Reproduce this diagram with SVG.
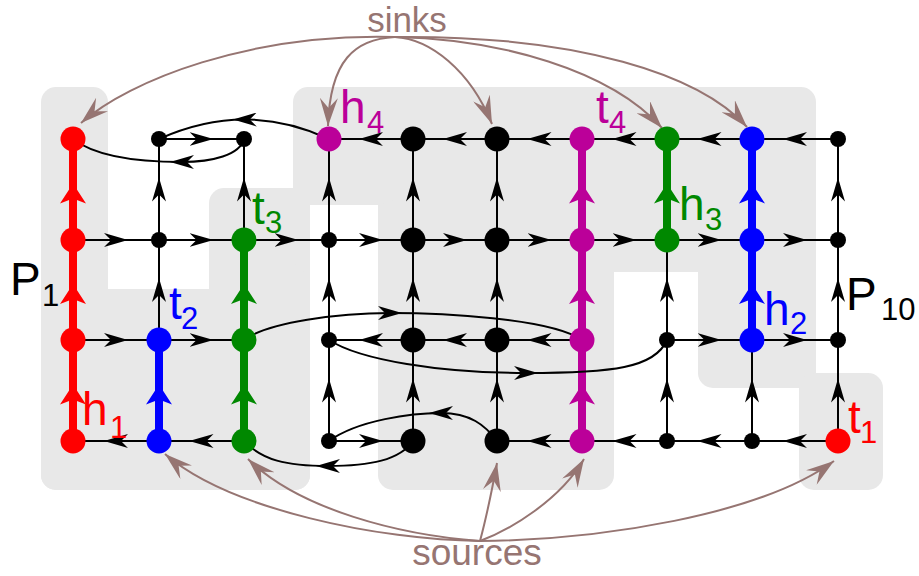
<svg xmlns="http://www.w3.org/2000/svg" width="919" height="576" viewBox="0 0 919 576">
<defs>
<style>
.bg{fill:#e8e8e8}
.wh{fill:#fff}
.e{fill:none;stroke:#000;stroke-width:2;marker-mid:url(#a)}
.tr{fill:none;stroke:#ff0000;stroke-width:8;marker-mid:url(#ar)}
.tb{fill:none;stroke:#0000ff;stroke-width:8;marker-mid:url(#ab)}
.tg{fill:none;stroke:#008800;stroke-width:8;marker-mid:url(#ag)}
.tm{fill:none;stroke:#bb0099;stroke-width:8;marker-mid:url(#am)}
.br{fill:none;stroke:#967572;stroke-width:2;marker-end:url(#abr)}
.k{fill:#000}.r{fill:#ff0000}.b{fill:#0000ff}.g{fill:#008800}.m{fill:#bb0099}
.t{font-family:"Liberation Sans",Arial,sans-serif;font-size:46px}
.s{font-family:"Liberation Sans",Arial,sans-serif;font-size:31px}
.bt{font-family:"Liberation Sans",Arial,sans-serif;font-size:36px;fill:#967572;text-anchor:middle}
</style>
<marker id="a" viewBox="0 0 24 14" refX="12" refY="7" markerWidth="24" markerHeight="14" markerUnits="userSpaceOnUse" orient="auto"><path d="M0,0 L24,7 L0,14 L7,7 Z" fill="#000"/></marker>
<marker id="ar" viewBox="0 0 20 26" refX="14" refY="13" markerWidth="20" markerHeight="26" markerUnits="userSpaceOnUse" orient="auto"><path d="M0,0 L20,13 L0,26 L5,13 Z" fill="#ff0000"/></marker>
<marker id="ab" viewBox="0 0 20 26" refX="14" refY="13" markerWidth="20" markerHeight="26" markerUnits="userSpaceOnUse" orient="auto"><path d="M0,0 L20,13 L0,26 L5,13 Z" fill="#0000ff"/></marker>
<marker id="ag" viewBox="0 0 20 26" refX="14" refY="13" markerWidth="20" markerHeight="26" markerUnits="userSpaceOnUse" orient="auto"><path d="M0,0 L20,13 L0,26 L5,13 Z" fill="#008800"/></marker>
<marker id="am" viewBox="0 0 20 26" refX="14" refY="13" markerWidth="20" markerHeight="26" markerUnits="userSpaceOnUse" orient="auto"><path d="M0,0 L20,13 L0,26 L5,13 Z" fill="#bb0099"/></marker>
<marker id="abr" viewBox="0 0 28 18" refX="28" refY="9" markerWidth="28" markerHeight="18" markerUnits="userSpaceOnUse" orient="auto"><path d="M0,0 L28,9 L0,18 L10,9 Z" fill="#967572"/></marker>
</defs>

<g id="background">
<rect class="bg" x="41" y="87" width="67" height="403" rx="15"/>
<rect class="bg" x="41" y="289" width="269" height="201" rx="15"/>
<rect class="bg" x="209" y="188" width="101" height="302" rx="15"/>
<rect class="bg" x="293" y="87" width="523" height="185" rx="15"/>
<rect class="bg" x="378" y="200" width="236" height="290" rx="15"/>
<rect class="bg" x="698" y="200" width="118" height="188" rx="15"/>
<rect class="bg" x="799" y="373" width="84" height="117" rx="15"/>
<rect class="wh" x="310" y="205" width="68" height="67"/>
</g>

<g id="connectors">
<!-- row 1 -->
<polyline class="e" points="159,139 201.5,139 244,139"/>
<polyline class="e" points="413,139 371,139 329,139"/>
<polyline class="e" points="497,139 455,139 413,139"/>
<polyline class="e" points="582,139 539.5,139 497,139"/>
<polyline class="e" points="667,139 624.5,139 582,139"/>
<polyline class="e" points="752,139 709.5,139 667,139"/>
<polyline class="e" points="838,139 795,139 752,139"/>
<!-- row 2 -->
<polyline class="e" points="73,240 116,240 159,240"/>
<polyline class="e" points="159,240 201.5,240 244,240"/>
<polyline class="e" points="244,240 286.5,240 329,240"/>
<polyline class="e" points="329,240 371,240 413,240"/>
<polyline class="e" points="413,240 455,240 497,240"/>
<polyline class="e" points="497,240 539.5,240 582,240"/>
<polyline class="e" points="582,240 624.5,240 667,240"/>
<polyline class="e" points="667,240 709.5,240 752,240"/>
<polyline class="e" points="752,240 795,240 838,240"/>
<!-- row 3 -->
<polyline class="e" points="73,340 116,340 159,340"/>
<polyline class="e" points="159,340 201.5,340 244,340"/>
<polyline class="e" points="582,340 539.5,340 497,340"/>
<polyline class="e" points="497,340 455,340 413,340"/>
<polyline class="e" points="413,340 371,340 329,340"/>
<polyline class="e" points="667,340 709.5,340 752,340"/>
<polyline class="e" points="752,340 795,340 838,340"/>
<!-- row 4 -->
<polyline class="e" points="159,441 116,441 73,441"/>
<polyline class="e" points="244,441 201.5,441 159,441"/>
<polyline class="e" points="329,441 371,441 413,441"/>
<polyline class="e" points="582,441 539.5,441 497,441"/>
<polyline class="e" points="667,441 624.5,441 582,441"/>
<polyline class="e" points="752,441 709.5,441 667,441"/>
<polyline class="e" points="838,441 795,441 752,441"/>
<!-- thin verticals -->
<polyline class="e" points="159,340 159,290 159,240"/>
<polyline class="e" points="159,240 159,189.5 159,139"/>
<polyline class="e" points="244,240 244,189.5 244,139"/>
<polyline class="e" points="329,441 329,390.5 329,340"/>
<polyline class="e" points="329,340 329,290 329,240"/>
<polyline class="e" points="329,240 329,189.5 329,139"/>
<polyline class="e" points="413,441 413,390.5 413,340"/>
<polyline class="e" points="413,340 413,290 413,240"/>
<polyline class="e" points="413,240 413,189.5 413,139"/>
<polyline class="e" points="497,441 497,390.5 497,340"/>
<polyline class="e" points="497,340 497,290 497,240"/>
<polyline class="e" points="497,240 497,189.5 497,139"/>
<polyline class="e" points="667,441 667,390.5 667,340"/>
<polyline class="e" points="667,340 667,290 667,240"/>
<polyline class="e" points="752,441 752,390.5 752,340"/>
<polyline class="e" points="838,441 838,390.5 838,340"/>
<polyline class="e" points="838,340 838,290 838,240"/>
<polyline class="e" points="838,240 838,189.5 838,139"/>
<!-- thick coloured paths -->
<polyline class="tr" points="73,441 73,390.5 73,340"/>
<polyline class="tr" points="73,340 73,290 73,240"/>
<polyline class="tr" points="73,240 73,189.5 73,139"/>
<polyline class="tb" points="159,441 159,390.5 159,340"/>
<polyline class="tg" points="244,441 244,390.5 244,340"/>
<polyline class="tg" points="244,340 244,290 244,240"/>
<polyline class="tm" points="582,441 582,390.5 582,340"/>
<polyline class="tm" points="582,340 582,290 582,240"/>
<polyline class="tm" points="582,240 582,189.5 582,139"/>
<polyline class="tg" points="667,240 667,189.5 667,139"/>
<polyline class="tb" points="752,340 752,290 752,240"/>
<polyline class="tb" points="752,240 752,189.5 752,139"/>
<!-- curved connectors -->
<path class="e" d="M329,139 Q287,119.5 244.75,119.5 Q202.5,119.5 159,139"/>
<path class="e" d="M244,139 C240,155 212,162 182,162 S100,160 73,139"/>
<path class="e" d="M244,340 C268,322 340,313 390,313 S550,318 582,340"/>
<path class="e" d="M329,340 C360,360 440,373 526,373 S655,368 667,340"/>
<path class="e" d="M413,441 C400,460 370,466 328,466 S262,460 244,441"/>
<path class="e" d="M497,441 C485,425 470,413 441,413 S358,420 329,441"/>
</g>

<g id="annotations">
<text class="bt" x="407" y="32" style="font-size:35px">sinks</text>
<path class="br" d="M395,37 C250,33 130,80 81,123"/>
<path class="br" d="M395,37 C355,39 330,60 328,126"/>
<path class="br" d="M395,37 C430,39 470,70 492,124"/>
<path class="br" d="M395,37 C500,39 610,70 662,128"/>
<path class="br" d="M395,37 C580,35 700,75 747,127"/>
<text class="bt" x="477" y="565" style="font-size:37px">sources</text>
<path class="br" d="M480,541 C380,540 230,510 165,454"/>
<path class="br" d="M480,541 C400,535 300,510 248,459"/>
<path class="br" d="M480,541 C487,515 492,490 497,463"/>
<path class="br" d="M480,541 C510,530 560,500 584,459"/>
<path class="br" d="M480,541 C600,540 760,515 834,461"/>
</g>

<g id="path-labels">
<text class="t" x="10" y="295">P</text><text class="s" x="42" y="306">1</text>
<text class="t" x="846" y="310">P</text><text class="s" x="881" y="320">10</text>
</g>

<!-- row 1 nodes -->
<g id="n-1-1"><circle class="r" cx="73" cy="139" r="12.5"/></g>
<g id="n-1-2"><circle class="k" cx="159" cy="139" r="8"/></g>
<g id="n-1-3"><circle class="k" cx="244" cy="139" r="8"/></g>
<g id="n-1-4"><circle class="m" cx="329" cy="139" r="12.5"/><text class="t m" x="340" y="123">h</text><text class="s m" x="367" y="133">4</text></g>
<g id="n-1-5"><circle class="k" cx="413" cy="139" r="12.5"/></g>
<g id="n-1-6"><circle class="k" cx="497" cy="139" r="12.5"/></g>
<g id="n-1-7"><circle class="m" cx="582" cy="139" r="12.5"/><text class="t m" x="596" y="123">t</text><text class="s m" x="609" y="133">4</text></g>
<g id="n-1-8"><circle class="g" cx="667" cy="139" r="12.5"/></g>
<g id="n-1-9"><circle class="b" cx="752" cy="139" r="12.5"/></g>
<g id="n-1-10"><circle class="k" cx="838" cy="139" r="8"/></g>
<!-- row 2 nodes -->
<g id="n-2-1"><circle class="r" cx="73" cy="240" r="12.5"/></g>
<g id="n-2-2"><circle class="k" cx="159" cy="240" r="8"/></g>
<g id="n-2-3"><circle class="g" cx="244" cy="240" r="12.5"/><text class="t g" x="252" y="224">t</text><text class="s g" x="265" y="233">3</text></g>
<g id="n-2-4"><circle class="k" cx="329" cy="240" r="8"/></g>
<g id="n-2-5"><circle class="k" cx="413" cy="240" r="12.5"/></g>
<g id="n-2-6"><circle class="k" cx="497" cy="240" r="12.5"/></g>
<g id="n-2-7"><circle class="m" cx="582" cy="240" r="12.5"/></g>
<g id="n-2-8"><circle class="g" cx="667" cy="240" r="12.5"/><text class="t g" x="679" y="220">h</text><text class="s g" x="705" y="230">3</text></g>
<g id="n-2-9"><circle class="b" cx="752" cy="240" r="12.5"/></g>
<g id="n-2-10"><circle class="k" cx="838" cy="240" r="8"/></g>
<!-- row 3 nodes -->
<g id="n-3-1"><circle class="r" cx="73" cy="340" r="12.5"/></g>
<g id="n-3-2"><circle class="b" cx="159" cy="340" r="12.5"/><text class="t b" x="169" y="319">t</text><text class="s b" x="181" y="329">2</text></g>
<g id="n-3-3"><circle class="g" cx="244" cy="340" r="12.5"/></g>
<g id="n-3-4"><circle class="k" cx="329" cy="340" r="8"/></g>
<g id="n-3-5"><circle class="k" cx="413" cy="340" r="12.5"/></g>
<g id="n-3-6"><circle class="k" cx="497" cy="340" r="12.5"/></g>
<g id="n-3-7"><circle class="m" cx="582" cy="340" r="12.5"/></g>
<g id="n-3-8"><circle class="k" cx="667" cy="340" r="8"/></g>
<g id="n-3-9"><circle class="b" cx="752" cy="340" r="12.5"/><text class="t b" x="764" y="325">h</text><text class="s b" x="790" y="334">2</text></g>
<g id="n-3-10"><circle class="k" cx="838" cy="340" r="8"/></g>
<!-- row 4 nodes -->
<g id="n-4-1"><circle class="r" cx="73" cy="441" r="12.5"/><text class="t r" x="82" y="425">h</text><text class="s r" x="110" y="438">1</text></g>
<g id="n-4-2"><circle class="b" cx="159" cy="441" r="12.5"/></g>
<g id="n-4-3"><circle class="g" cx="244" cy="441" r="12.5"/></g>
<g id="n-4-4"><circle class="k" cx="329" cy="441" r="8"/></g>
<g id="n-4-5"><circle class="k" cx="413" cy="441" r="12.5"/></g>
<g id="n-4-6"><circle class="k" cx="497" cy="441" r="12.5"/></g>
<g id="n-4-7"><circle class="m" cx="582" cy="441" r="12.5"/></g>
<g id="n-4-8"><circle class="k" cx="667" cy="441" r="8"/></g>
<g id="n-4-9"><circle class="k" cx="752" cy="441" r="8"/></g>
<g id="n-4-10"><circle class="r" cx="838" cy="441" r="12.5"/><text class="t r" x="848" y="433">t</text><text class="s r" x="860" y="443">1</text></g>
</svg>
